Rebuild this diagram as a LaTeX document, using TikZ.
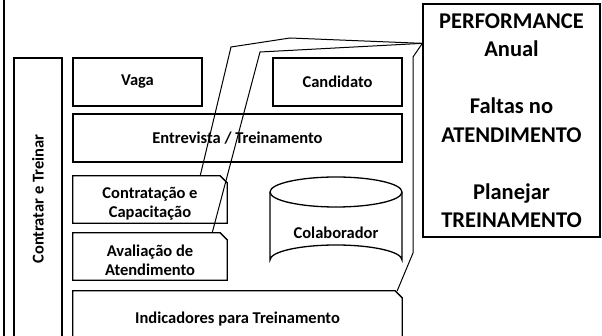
\documentclass[tikz,border=0pt]{standalone}
\usepackage{fontspec}
\setmainfont{Carlito}
\begin{document}
\begin{tikzpicture}[x=1pt,y=-1pt]
        \tikzstyle{line} = [line width=1pt]
        \tikzstyle{txt} = [align=center, inner sep=0pt, font=\bfseries\fontsize{16.5}{19}\selectfont]
        \tikzstyle{rec} = [txt, rectangle, draw=black, line width=1.3pt]
        \tikzstyle{note} = [rectangle, inner sep=0pt]

        \useasboundingbox (0,0) rectangle (602,336);
        \draw[line width=2pt] (4,-2) -- (4,338);

        \node(treinar) [rec, rotate=90, minimum width=282, minimum height=48] at (38,199) {Contratar e Treinar};
        \node(vaga) [rec, minimum width=129, minimum height=48] at (137.5,82) {Vaga};
        \node(cand) [rec, minimum width=129, minimum height=48] at (337.5,82) {Candidato};
        \node(entrev) [rec, minimum width=329, minimum height=48] at (237.5,138) {Entrevista / Treinamento};
        \node(contr) [note, minimum width=154, minimum height=47] at (150,199.5) {};
        \node(contrtxt) [txt] at ([yshift=-4pt]contr.center) {Contratação e\\ Capacitação};
        \node(aval) [note, minimum width=154, minimum height=47] at (150,256.5) {};
        \node(avaltxt) [txt] at ([yshift=-4pt]aval.center) {Avaliação de\\ Atendimento};
        \node(indic) [note, minimum width=329, minimum height=49] at (237.5,315.5) {};
        \node(indictxt) [txt] at ([yshift=-4pt]indic.center) {Indicadores para Treinamento};

        % cut corner boxes
        \foreach \n in {contr, aval, indic}
        \draw[line width=1.3pt] (\n.north west) -- ([xshift=-7pt]\n.north east) -- ([yshift=-7pt]\n.north east)
        -- (\n.south east) -- (\n.south west) -- cycle;

        % cylinder
        \draw[rec] (270,192) -- (270,260) arc[start angle=180, end angle=360, x radius=66, y radius=15]
        -- (402,192);
        \draw[rec] (336,192) ellipse [x radius=66, y radius=15];
        \node(colab) [txt] at (336,233) {Colaborador};

        \node(perf) [rec, minimum width=177, minimum height=233, font=\bfseries\fontsize{22.5}{28.5}\selectfont]
        at (511.5,120.5) {PERFORMANCE\\ Anual\\[28.5pt] Faltas no\\ ATENDIMENTO\\[28.5pt] Planejar\\ TREINAMENTO};
        \coordinate(tip) at ([yshift=-40pt]perf.north west);

        \draw[line] ([xshift=-27pt]contr.north east) -- (231,47) -- (290,38) -- (tip);
        \draw[line] ([xshift=-15pt]aval.north east) -- (260,52) -- (tip);
        \draw[line] ([xshift=-5pt]indic.north east) -- (413,253) -- (413,57) -- (tip);
    \end{tikzpicture}
\end{document}
